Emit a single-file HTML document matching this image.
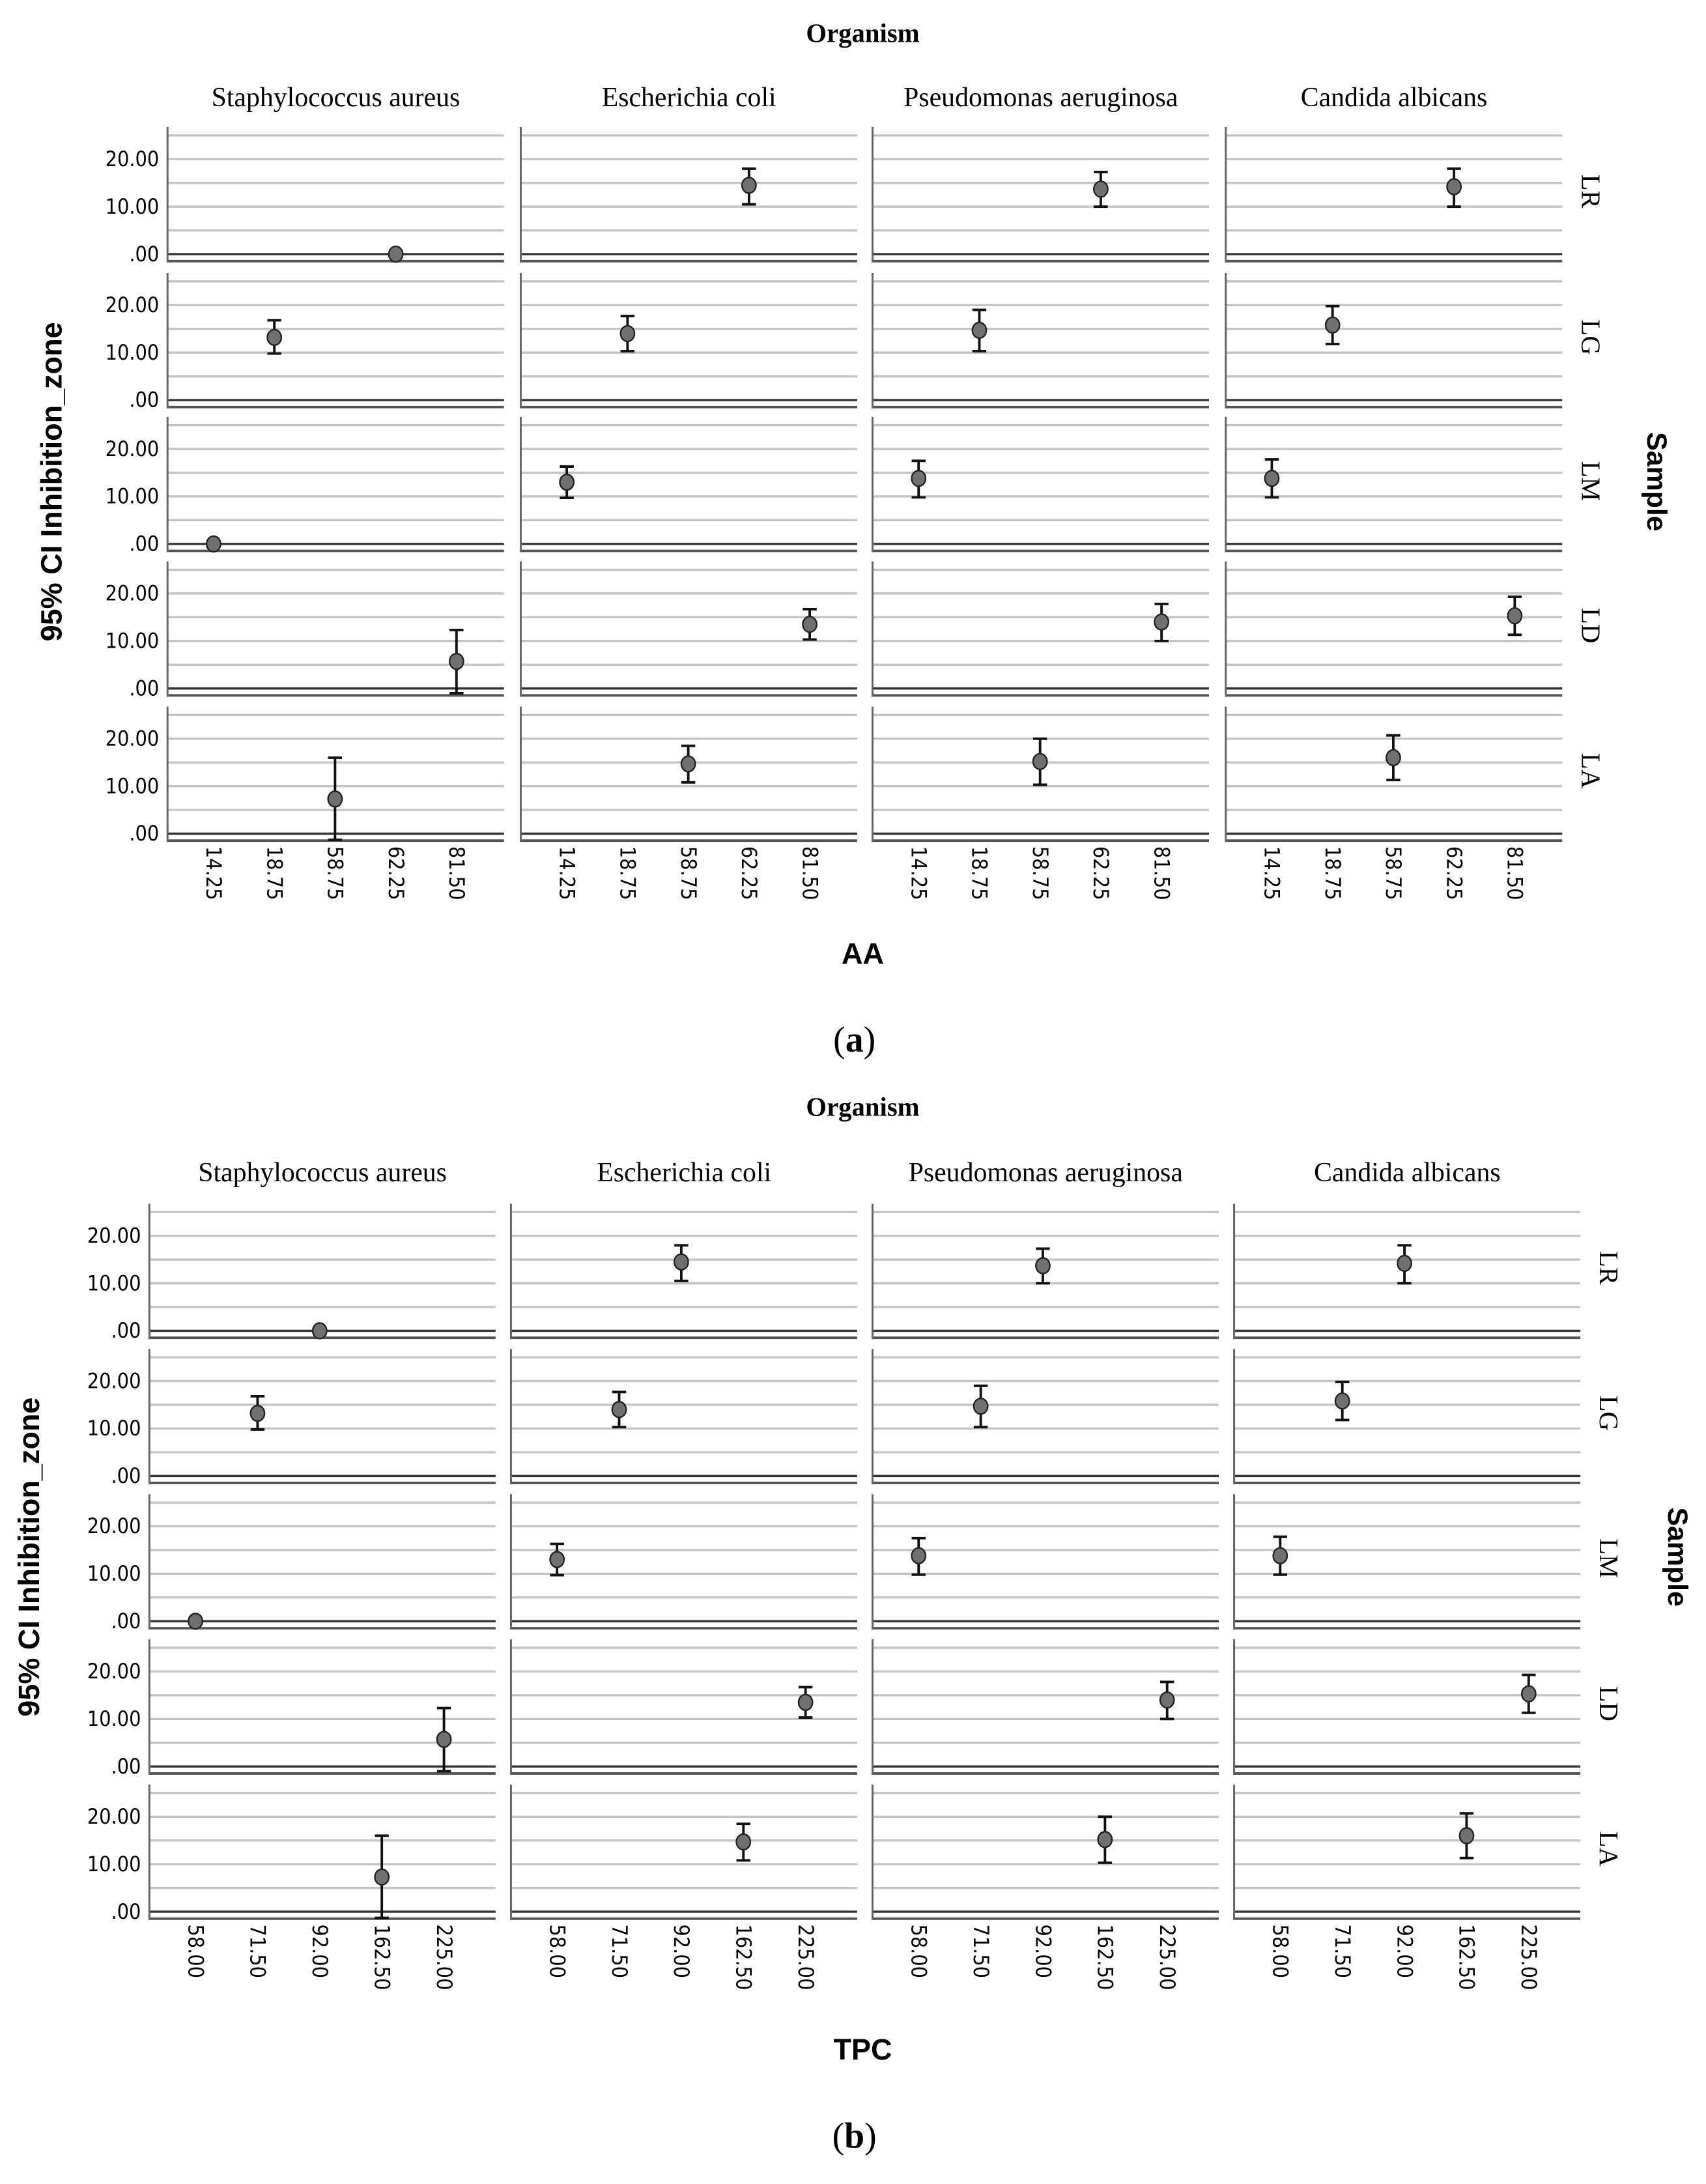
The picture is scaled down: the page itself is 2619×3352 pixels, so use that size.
<!DOCTYPE html>
<html><head><meta charset="utf-8">
<style>
html,body{margin:0;padding:0;background:#fff;}
svg{display:block;}
.serif{font-family:"Liberation Serif",serif;}
.sans{font-family:"DejaVu Sans Condensed","DejaVu Sans","Liberation Sans",sans-serif;}
.bold{font-family:"Liberation Sans",sans-serif;font-weight:bold;}
</style></head>
<body>
<svg id="chart" width="2619" height="3352" viewBox="0 0 1222 1564" xmlns="http://www.w3.org/2000/svg"></svg>
<script>
// ---- data ----
const organisms = ["Staphylococcus aureus","Escherichia coli","Pseudomonas aeruginosa","Candida albicans"];
const samples = ["LR","LG","LM","LD","LA"];
const aaTicks = ["14.25","18.75","58.75","62.25","81.50"];
const tpcTicks = ["58.00","71.50","92.00","162.50","225.00"];
const yTickValues = [0,10,20];
const yTickLabels = [".00","10.00","20.00"];
// category index per sample
const sampleCatAA = [3,1,0,4,2];
const sampleCatTPC = [2,1,0,4,3];
// means [sample][organism]
const means = [
  [0,14.5,13.7,14.2],
  [13.2,14.0,14.7,15.8],
  [0,13.0,13.8,13.8],
  [5.7,13.5,14.0,15.3],
  [7.3,14.7,15.2,16.0]
];
const lows = [
  [0,10.5,10.0,10.0],
  [9.8,10.3,10.3,11.8],
  [0,9.7,9.8,9.8],
  [-1.0,10.3,10.0,11.3],
  [-1.3,10.8,10.3,11.3]
];
const highs = [
  [0,18.0,17.3,18.0],
  [16.8,17.7,19.0,19.8],
  [0,16.3,17.5,17.8],
  [12.3,16.7,17.8,19.3],
  [16.0,18.5,20.0,20.7]
];

const NS="http://www.w3.org/2000/svg";
const svg=document.getElementById('chart');
function mk(tag,attrs,parent){const e=document.createElementNS(NS,tag);for(const k in attrs)e.setAttribute(k,attrs[k]);(parent||svg).appendChild(e);return e;}
function txt(s,attrs,parent){const e=mk('text',attrs,parent);e.textContent=s;return e;}

function panel(cfg){
  const g=mk('g',{});
  
  
  let t=txt("Organism",{x:618,y:cfg.orgY,'text-anchor':'middle','font-size':19,'font-weight':'bold',class:'serif'},g);
  
  
  const unit=3.4;
  organisms.forEach((o,c)=>{
    const L=cfg.lefts[c];
    const h=txt(o,{x:L+cfg.w/2,y:cfg.headY,'text-anchor':'middle','font-size':19.5,class:'serif'},g);
    
    
    samples.forEach((s,r)=>{
      const z=cfg.zeros[r];
      const y=v=>z-v*unit;
      const x=i=>L+33+i*cfg.step;
      for(let v=5;v<=25;v+=5){
        const gl=mk('line',{x1:L,x2:L+cfg.w,y1:y(v),y2:y(v),stroke:'#c4c4c4','stroke-width':1.6},g);
        
        
      }
      const zl=mk('line',{x1:L,x2:L+cfg.w,y1:z,y2:z,stroke:'#333','stroke-width':1.6},g);
      
      
      const bl=mk('line',{x1:L,x2:L+cfg.w,y1:z+5,y2:z+5,stroke:'#555','stroke-width':1.8},g);
      
      
      const al=mk('line',{x1:L,x2:L,y1:z-91,y2:z+6,stroke:'#666','stroke-width':1.4},g);
      
      
      if(c===0){
        yTickValues.forEach((v,k)=>{
          const tl=txt(yTickLabels[k],{x:L-6,y:y(v)+5,'text-anchor':'end','font-size':15,class:'sans'},g);
          
          
        });
      }
      if(c===3){
        const sl=txt(s,{x:0,y:0,'text-anchor':'middle','font-size':19,class:'serif',transform:`translate(${L+cfg.w+14},${z-45}) rotate(90)`},g);
        
        
      }
      const xi=x(cfg.cats[r]);
      const m=means[r][c],lo=lows[r][c],hi=highs[r][c];
      if(hi!==lo){
        const eb=mk('g',{stroke:'#111','stroke-width':1.8},g);
        
        
        mk('line',{x1:xi,x2:xi,y1:y(lo),y2:y(hi)},eb);
        mk('line',{x1:xi-5,x2:xi+5,y1:y(lo),y2:y(lo)},eb);
        mk('line',{x1:xi-5,x2:xi+5,y1:y(hi),y2:y(hi)},eb);
      }
      const pt=mk('ellipse',{cx:xi,cy:y(m),rx:5,ry:5.6,fill:'#707070',stroke:'#222','stroke-width':1.1},g);
      
      
    });
    cfg.ticks.forEach((tk,i)=>{
      const xi=L+33+i*cfg.step;
      const xl=txt(tk,{x:0,y:0,'font-size':15,class:'sans',transform:`translate(${xi-5},${cfg.tickY}) rotate(90)`},g);
      
      
    });
  });
  const yt=txt("95% CI Inhibition_zone",{x:0,y:0,'text-anchor':'middle','font-size':21,class:'bold',transform:`translate(${cfg.ytX},${cfg.midY}) rotate(-90)`},g);
  
  
  const st=txt("Sample",{x:0,y:0,'text-anchor':'middle','font-size':20,class:'bold',transform:`translate(${cfg.sX},${cfg.midY}) rotate(90)`},g);
  
  
  const xt=txt(cfg.xTitle,{x:618,y:cfg.xTitleY,'text-anchor':'middle','font-size':21,class:'bold'},g);
  
  
  const cap=mk('text',{x:612,y:cfg.capY,'text-anchor':'middle','font-size':26,class:'serif'},g);
  
  
  cap.appendChild(document.createTextNode('('));
  const b=mk('tspan',{'font-weight':'bold'},cap);b.textContent=cfg.cap;
  cap.appendChild(document.createTextNode(')'));
}

panel({name:'panel-a-aa',orgY:30,headY:76,lefts:[120,373,625,878],w:241,step:43.5,cats:sampleCatAA,
  zeros:[182,286.5,389.5,493,597],ticks:aaTicks,tickY:606,ytX:44,sX:1180,midY:345,
  xTitle:"AA",xTitleY:690,cap:"a",capY:753});
panel({name:'panel-b-tpc',orgY:799,headY:846,lefts:[107,366,625,884],w:248,step:44.5,cats:sampleCatTPC,
  zeros:[953,1057,1161,1265,1369],ticks:tpcTicks,tickY:1378,ytX:28,sX:1195,midY:1115,
  xTitle:"TPC",xTitleY:1475,cap:"b",capY:1538});
</script>
</body></html>
